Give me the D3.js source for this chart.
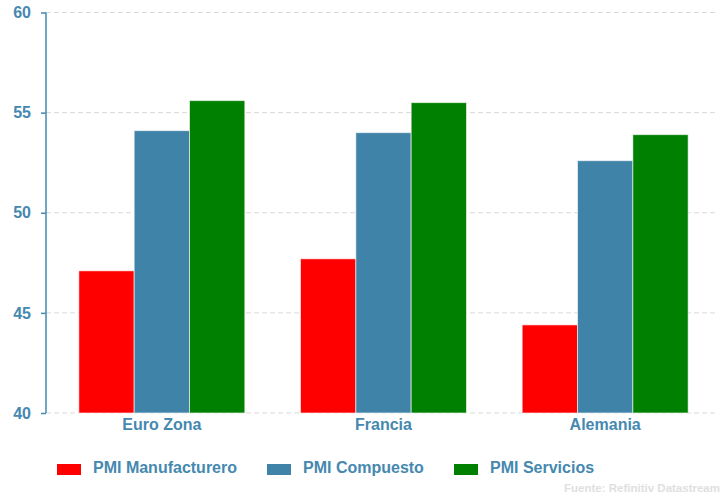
<!DOCTYPE html>
<html><head><meta charset="utf-8">
<script src="https://cdn.jsdelivr.net/npm/d3@7"></script>
<style>body{margin:0;background:#fff;}svg{display:block;font-family:"Liberation Sans",Arial,sans-serif;}</style>
</head><body>
<svg id="c" width="723" height="495"></svg>
<script>
const categories = ["Euro Zona", "Francia", "Alemania"];
const seriesNames = ["PMI Manufacturero", "PMI Compuesto", "PMI Servicios"];
const manufacturero = [47.1, 47.7, 44.4];
const compuesto = [54.1, 54.0, 52.6];
const servicios = [55.6, 55.5, 53.9];
const yTicks = [40, 45, 50, 55, 60];
const colors = ["#ff0000", "#3f83a8", "#008000"];
const source = "Fuente: Refinitiv Datastream";

const series = [manufacturero, compuesto, servicios];
const svg = d3.select("#c");
const textColor = "#4588b0";

const y = d3.scaleLinear().domain([40, 60]).range([413, 12.5]);
const x = d3.scaleBand().domain(categories).range([51, 716]).paddingInner(0).paddingOuter(0);
const xs = d3.scaleBand().domain(d3.range(3)).range([0, 166]).padding(0);
const groupOffset = (x.bandwidth() - 166) / 2;

// grid
svg.append("g").selectAll("line").data(yTicks).join("line")
  .attr("x1", 46).attr("x2", 718)
  .attr("y1", d => y(d)).attr("y2", d => y(d))
  .attr("stroke", "#d9d9d9").attr("stroke-width", 1).attr("stroke-dasharray", "5,3");

// bars
categories.forEach((c, ci) => {
  series.forEach((s, si) => {
    svg.append("rect")
      .attr("x", x(c) + groupOffset + xs(si))
      .attr("y", y(s[ci]))
      .attr("width", xs.bandwidth())
      .attr("height", y(40) - y(s[ci]))
      .attr("fill", colors[si])
      .attr("stroke", "#ffffff").attr("stroke-opacity", 0.6).attr("stroke-width", 1);
  });
});

// y axis
const yAxis = d3.axisLeft(y).tickValues(yTicks).tickSize(5).tickPadding(10);
const ga = svg.append("g").attr("transform", "translate(46,0)").call(yAxis);
ga.select(".domain").attr("stroke", textColor).attr("stroke-width", 1.5).attr("d", `M-0,${y(60)}V${y(40)}`);
ga.selectAll(".tick line").attr("stroke", textColor).attr("stroke-width", 1.5);
ga.selectAll(".tick text").attr("fill", textColor).attr("font-size", 16).attr("font-weight", "bold")
  .attr("font-family", "'Liberation Sans', Arial, sans-serif");

// x labels
const xAxis = d3.axisBottom(x).tickSize(0).tickPadding(6);
const gx = svg.append("g").attr("transform", "translate(0,413)").call(xAxis);
gx.select(".domain").remove();
gx.selectAll(".tick text").attr("fill", textColor).attr("font-size", 16).attr("font-weight", "bold")
  .attr("font-family", "'Liberation Sans', Arial, sans-serif");

// legend
const legendX = [57, 267, 454];
const lg = svg.append("g");
seriesNames.forEach((n, i) => {
  lg.append("rect").attr("x", legendX[i]).attr("y", 464).attr("width", 24).attr("height", 11).attr("fill", colors[i]);
  lg.append("text").attr("x", legendX[i] + 36).attr("y", 473).attr("fill", textColor)
    .attr("font-size", 16).attr("font-weight", "bold").text(n);
});

svg.append("text").attr("x", 720).attr("y", 492).attr("text-anchor", "end").attr("fill", "#e0e0e0")
  .attr("font-size", 11.5).attr("font-weight", "bold").text(source);
</script>
</body></html>
